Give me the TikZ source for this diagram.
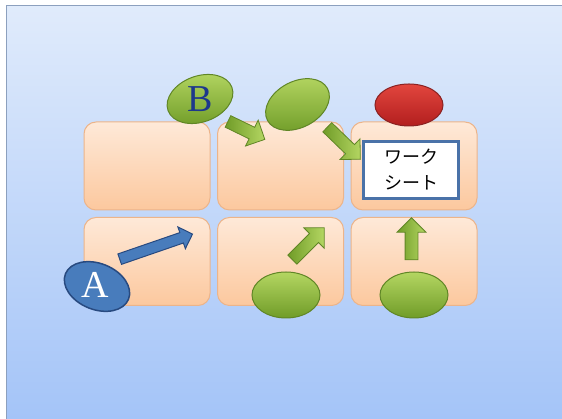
\documentclass[tikz,border=0pt]{standalone}
\usepackage{fontspec}
\setmainfont{Liberation Serif}
\newfontfamily\jpfont{Noto Sans CJK JP}
\usetikzlibrary{shapes.geometric,shapes.arrows}
\definecolor{bgtop}{RGB}{224,235,251}
\definecolor{bgbot}{RGB}{164,196,248}
\definecolor{frameline}{RGB}{140,160,190}
\definecolor{celltop}{RGB}{254,233,216}
\definecolor{cellbot}{RGB}{252,200,158}
\definecolor{cellline}{RGB}{236,180,138}
\definecolor{grntop}{RGB}{180,214,98}
\definecolor{grnbot}{RGB}{112,156,40}
\definecolor{grnline}{RGB}{96,134,38}
\definecolor{redtop}{RGB}{226,70,62}
\definecolor{redbot}{RGB}{178,30,30}
\definecolor{redline}{RGB}{138,34,34}
\definecolor{bluefill}{RGB}{72,124,188}
\definecolor{blueline}{RGB}{40,74,128}
\definecolor{sheetline}{RGB}{74,114,168}
\definecolor{letterB}{RGB}{30,56,140}
\tikzset{
	cell/.style={rectangle,rounded corners=12,draw=cellline,line width=1,top color=celltop,bottom color=cellbot,minimum width=126,minimum height=88,inner sep=0},
	grnoval/.style={ellipse,draw=grnline,line width=1,top color=grntop,bottom color=grnbot,inner sep=0},
	redoval/.style={ellipse,draw=redline,line width=1,top color=redtop,bottom color=redbot,inner sep=0},
	bluoval/.style={ellipse,draw=blueline,line width=1.5,fill=bluefill,inner sep=0},
	grnarrow/.style={single arrow,draw=grnline,line width=0.8,left color=grnbot,right color=grntop,inner xsep=0,inner ysep=6,minimum width=0,single arrow head extend=8},
	bluarrow/.style={single arrow,draw=blueline,line width=1,fill=bluefill,inner xsep=0,inner ysep=5,minimum width=0,single arrow head extend=6},
	letter/.style={inner sep=0,font=\fontsize{38}{40}\selectfont},
	sheet/.style={rectangle,draw=sheetline,line width=3,fill=white,minimum width=95,minimum height=57,align=center,inner sep=0,font=\jpfont\fontsize{18}{26}\selectfont}
}
\begin{document}
\begin{tikzpicture}[x=1pt,y=1pt]
	\useasboundingbox (0,0) rectangle (562,419);
	\fill[white] (0,0) rectangle (562,419);
	\shade[top color=bgtop,bottom color=bgbot] (6,0) rectangle (562,413);
	\draw[frameline,line width=1] (6,0) -- (6,413) -- (562,413);
		\node[cell](c11) at (147,253){};
		\node[cell](c12) at (280.5,253){};
		\node[cell](c13) at (414,253){};
		\node[cell](c21) at (147,157.5){};
		\node[cell](c22) at (280.5,157.5){};
		\node[cell](c23) at (414,157.5){};
		\node[sheet](ws) at (411,249){ワーク\\シート};
		\node[bluarrow,minimum height=77,rotate=19](aA) at (153.5,171.5){};
		\node[grnarrow,minimum height=41,rotate=-26](aB) at (243.5,290){};
		\node[grnarrow,minimum height=46,rotate=-44](aC) at (341.5,278){};
		\node[grnarrow,minimum height=45,rotate=45](aD) at (306,173){};
		\node[grnarrow,minimum height=42,rotate=90](aE) at (411.5,177){};
		\node[grnoval,minimum width=68,minimum height=46,rotate=20](oB) at (200,320){};
		\node[grnoval,minimum width=68,minimum height=46,rotate=28](oT) at (297.5,314.5){};
		\node[redoval,minimum width=68,minimum height=42](oR) at (409,314){};
		\node[bluoval,minimum width=68,minimum height=46,rotate=-22](oA) at (97,132.5){};
		\node[grnoval,minimum width=68,minimum height=46](oM) at (286,124){};
		\node[grnoval,minimum width=68,minimum height=46](oN) at (414,124){};
		\node[letter,text=letterB](lB) at (oB){B};
		\node[letter,text=white](lA) at (95,134){A};
	\end{tikzpicture}
\end{document}
